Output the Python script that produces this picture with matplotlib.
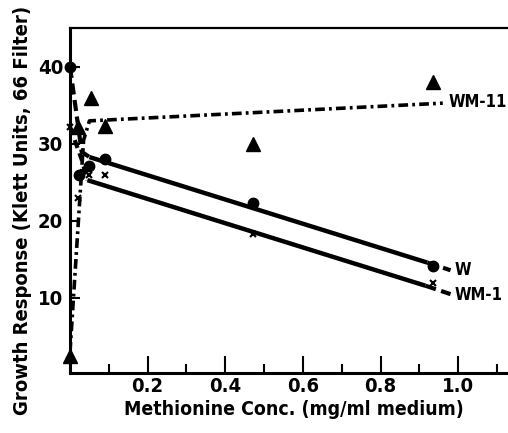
import matplotlib
matplotlib.use("Agg")
import matplotlib.pyplot as plt
from matplotlib.ticker import MultipleLocator
from matplotlib import font_manager as fm
from matplotlib.transforms import blended_transform_factory

plt.rcParams['lines.scale_dashes'] = False

# pick the narrowest bold sans font available
def pick_font():
    for f in fm.fontManager.ttflist:
        n = f.name.lower()
        fn = f.fname.lower()
        if (('narrow' in n or 'condensed' in n or 'narrow' in fn or 'condensed' in fn)
                and ('bold' in fn or str(f.weight) in ('bold', '700'))):
            return fm.FontProperties(fname=f.fname)
    return fm.FontProperties(family=['Roboto', 'Liberation Sans', 'DejaVu Sans'], weight='bold')

FP = pick_font()

def fp(size):
    p = FP.copy()
    p.set_size(size)
    return p

# ---- data ----
# W (circles)
w_x = [0.0, 0.023, 0.05, 0.09, 0.47, 0.935]
w_y = [40.0, 26.0, 27.1, 28.0, 22.3, 14.2]
# WM-1 (crosses)
wm1_x = [0.0, 0.02, 0.05, 0.09, 0.47, 0.935]
wm1_y = [32.2, 23.0, 26.0, 26.0, 18.3, 12.0]
# WM-11 (triangles)
wm11_x = [0.0, 0.02, 0.055, 0.09, 0.47, 0.935]
wm11_y = [2.5, 32.2, 36.0, 32.3, 30.0, 38.0]

# fitted curves drawn on the chart
w_dash1_x, w_dash1_y = [0.0, 0.03, 0.05], [40.0, 29.0, 28.3]
w_line_x, w_line_y = [0.05, 0.92], [28.3, 14.6]
w_dash2_x, w_dash2_y = [0.92, 0.98], [14.6, 13.6]

wm1_dash1_x, wm1_dash1_y = [0.0, 0.03, 0.045], [32.2, 28.0, 25.3]
wm1_line_x, wm1_line_y = [0.045, 0.915], [25.3, 11.6]
wm1_dash2_x, wm1_dash2_y = [0.915, 0.98], [11.6, 10.5]

wm11_line_x = [0.0, 0.035, 0.05, 0.96]
wm11_line_y = [3.0, 30.5, 33.0, 35.3]

xticks = [0.2, 0.4, 0.6, 0.8, 1.0]
xtick_labels = ['0.2', '0.4', '0.6', '0.8', '1.0']
yticks = [10, 20, 30, 40]
ytick_labels = ['10', '20', '30', '40']

fig = plt.figure(figsize=(5.08, 4.33), dpi=100)
ax = fig.add_axes([70/508, 60/433, 438/508, 345/433])
ax.set_xlim(0, 1.128)
ax.set_ylim(0.26, 45.06)

k = 'black'
# W
ax.plot(w_dash1_x, w_dash1_y, color=k, lw=3, dashes=(8, 4))
ax.plot(w_line_x, w_line_y, color=k, lw=3.2, solid_capstyle='butt')
ax.plot(w_dash2_x, w_dash2_y, color=k, lw=3, dashes=(8, 4))
ax.plot(w_x, w_y, 'o', color=k, ms=7.5, clip_on=False, zorder=4)
# WM-1
ax.plot(wm1_dash1_x, wm1_dash1_y, color=k, lw=3, dashes=(6, 4))
ax.plot(wm1_line_x, wm1_line_y, color=k, lw=3.2, solid_capstyle='butt')
ax.plot(wm1_dash2_x, wm1_dash2_y, color=k, lw=3, dashes=(8, 4))
ax.plot(wm1_x, wm1_y, 'x', color=k, ms=5, mew=1.5, clip_on=False, zorder=4)
# WM-11
ax.plot(wm11_line_x, wm11_line_y, color=k, lw=2.6, dashes=(7, 3, 2, 3))
ax.plot(wm11_x, wm11_y, '^', color=k, ms=10, clip_on=False, zorder=4)

t_w = ax.text(0.99, 13.6, 'W', fontproperties=fp(12), va='center', ha='left')
t_wm1 = ax.text(0.99, 10.4, 'WM-1', fontproperties=fp(12), va='center', ha='left')
tr = blended_transform_factory(ax.transAxes, ax.transData)
t_wm11 = ax.text(0.997, 35.5, 'WM-11', fontproperties=fp(12), va='center', ha='right',
                 transform=tr, clip_on=False)

ax.spines['right'].set_visible(False)
for s in ['left', 'bottom']:
    ax.spines[s].set_linewidth(2.2)
ax.spines['top'].set_linewidth(1.6)

ax.set_xticks(xticks)
ax.set_xticklabels(xtick_labels)
ax.xaxis.set_minor_locator(MultipleLocator(0.1))
ax.set_yticks(yticks)
ax.set_yticklabels(ytick_labels)
ax.tick_params(axis='x', which='major', direction='in', length=12, width=1.5, pad=3, top=False)
ax.tick_params(axis='x', which='minor', direction='in', length=6.5, width=1.5, top=False)
ax.tick_params(axis='y', which='major', direction='in', length=7, width=1.5, pad=5, right=False)

xl = ax.set_xlabel('Methionine Conc. (mg/ml medium)', fontproperties=fp(17))
yl = ax.set_ylabel('Growth Response (Klett Units, 66 Filter)', fontproperties=fp(17))

# fit sizes so text extents match the reference (in pixels)
renderer = fig.canvas.get_renderer()
def fit(t, target, base, horiz=True):
    t.set_fontproperties(fp(base))
    bb = t.get_window_extent(renderer)
    ext = bb.width if horiz else bb.height
    t.set_fontproperties(fp(min(base, base * target / ext)))

fit(xl, 338, 17)
fit(yl, 412, 17, horiz=False)
probe = fig.text(0, 0, '0.2', fontproperties=fp(17))
fit(probe, 32, 17)
tick_size = probe.get_fontproperties().get_size()
probe.remove()
for lab in ax.get_xticklabels() + ax.get_yticklabels():
    lab.set_fontproperties(fp(tick_size))

ax.xaxis.set_label_coords(0.511, -0.078)
ax.yaxis.set_label_coords(-0.087, 0.47)

fig.savefig('out.png', dpi=100)
